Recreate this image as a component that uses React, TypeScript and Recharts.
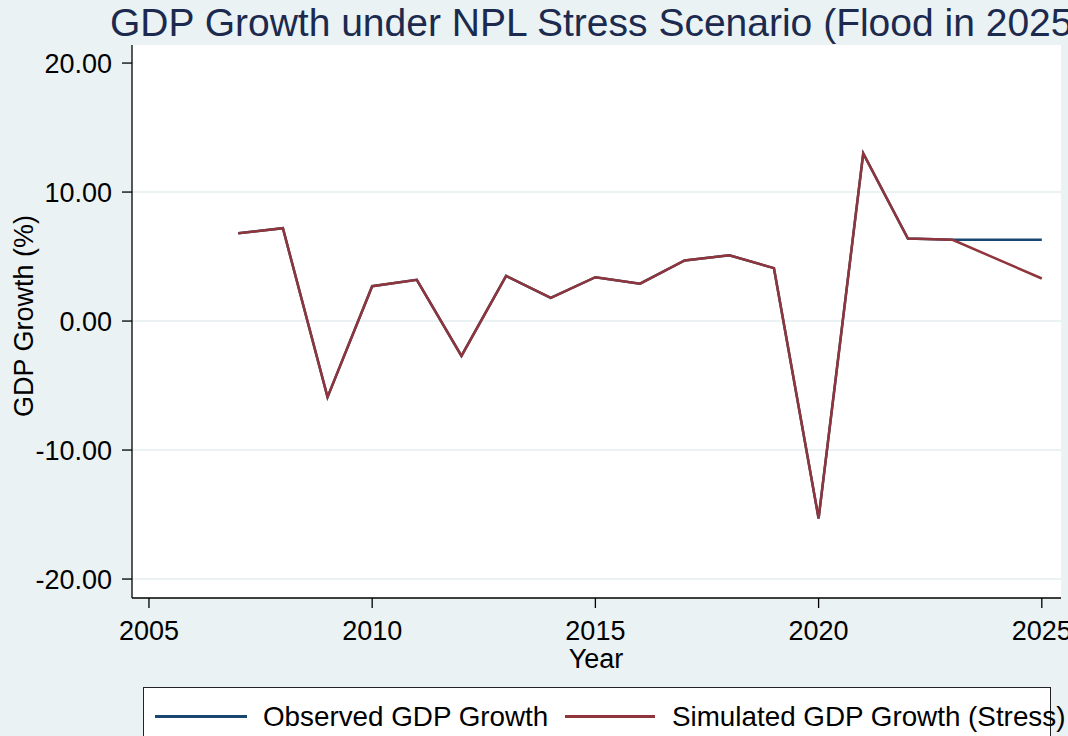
import React from 'react';
import { LineChart, Line, XAxis, YAxis, CartesianGrid } from 'recharts';

const years = [2007, 2008, 2009, 2010, 2011, 2012, 2013, 2014, 2015, 2016, 2017, 2018, 2019, 2020, 2021, 2022, 2023, 2024, 2025];
const observed = [6.8, 7.2, -5.9, 2.7, 3.2, -2.7, 3.5, 1.8, 3.4, 2.9, 4.7, 5.1, 4.1, -15.3, 13.0, 6.4, 6.3, 6.3, 6.3];
const simulated = [6.8, 7.2, -5.9, 2.7, 3.2, -2.7, 3.5, 1.8, 3.4, 2.9, 4.7, 5.1, 4.1, -15.3, 13.0, 6.4, 6.3, 4.8, 3.3];
const xTicks = [2005, 2010, 2015, 2020, 2025];
const yTicks = [-20, -10, 0, 10, 20];
const gridValues = [-20, -10, 0, 10];

const data = years.map((year, i) => ({ year, observed: observed[i], simulated: simulated[i] }));

const BG = '#EAF2F3';
const NAVY = '#1A476F';
const MAROON = '#90353B';
const FONT = '"Liberation Sans", Arial, sans-serif';

export default function App() {
  return (
    <div
      style={{
        position: 'absolute',
        top: 0,
        left: 0,
        width: 1068,
        height: 736,
        overflow: 'hidden',
        background: BG,
        fontFamily: FONT,
      }}
    >
      <div
        style={{
          position: 'absolute',
          left: 110,
          top: 3,
          fontSize: 39,
          lineHeight: 1,
          color: '#1B2A4E',
          whiteSpace: 'nowrap',
        }}
      >
        GDP Growth under NPL Stress Scenario (Flood in 2025)
      </div>

      <LineChart
        width={1068}
        height={736}
        data={data}
        margin={{ top: 45, right: 7, bottom: 98, left: 0 }}
        style={{ position: 'absolute', top: 0, left: 0 }}
      >
        <CartesianGrid
          vertical={false}
          horizontalValues={gridValues}
          stroke={BG}
          strokeWidth={2}
          fill="#ffffff"
        />
        <XAxis
          type="number"
          dataKey="year"
          domain={[2004.62, 2025.43]}
          ticks={xTicks}
          interval={0}
          allowDataOverflow
          height={40}
          tickSize={10}
          tickMargin={13}
          axisLine={{ stroke: '#000', strokeWidth: 1.3 }}
          tickLine={{ stroke: '#000', strokeWidth: 1.3 }}
          tick={{ fill: '#000', fontSize: 27, fontFamily: FONT }}
        />
        <YAxis
          type="number"
          domain={[-21.47, 21.4]}
          ticks={yTicks}
          interval={0}
          allowDataOverflow
          width={132}
          tickSize={10}
          tickMargin={10}
          tickFormatter={(v: number) => v.toFixed(2)}
          axisLine={{ stroke: '#000', strokeWidth: 1.3 }}
          tickLine={{ stroke: '#000', strokeWidth: 1.3 }}
          tick={{ fill: '#000', fontSize: 27, fontFamily: FONT }}
        />
        <Line
          type="linear"
          dataKey="observed"
          stroke={NAVY}
          strokeWidth={2.5}
          dot={false}
          isAnimationActive={false}
        />
        <Line
          type="linear"
          dataKey="simulated"
          stroke={MAROON}
          strokeWidth={2.5}
          dot={false}
          isAnimationActive={false}
        />
      </LineChart>

      <div
        style={{
          position: 'absolute',
          left: 24,
          top: 316,
          fontSize: 27,
          lineHeight: 1,
          color: '#000',
          whiteSpace: 'nowrap',
          transform: 'translate(-50%, -50%) rotate(-90deg)',
        }}
      >
        GDP Growth (%)
      </div>

      <div
        style={{
          position: 'absolute',
          left: 596,
          top: 646,
          fontSize: 27,
          lineHeight: 1,
          color: '#000',
          transform: 'translateX(-50%)',
        }}
      >
        Year
      </div>

      <div
        style={{
          position: 'absolute',
          left: 143,
          top: 687,
          width: 906,
          height: 80,
          background: '#fff',
          border: '1.5px solid #222',
        }}
      />
      <div style={{ position: 'absolute', left: 155, top: 715, width: 92, height: 3, background: NAVY }} />
      <div
        style={{ position: 'absolute', left: 263, top: 703, fontSize: 27.8, lineHeight: 1, color: '#000', whiteSpace: 'nowrap' }}
      >
        Observed GDP Growth
      </div>
      <div style={{ position: 'absolute', left: 565, top: 715, width: 90, height: 3, background: MAROON }} />
      <div
        style={{ position: 'absolute', left: 672, top: 703, fontSize: 27.8, lineHeight: 1, color: '#000', whiteSpace: 'nowrap' }}
      >
        Simulated GDP Growth (Stress)
      </div>
    </div>
  );
}
